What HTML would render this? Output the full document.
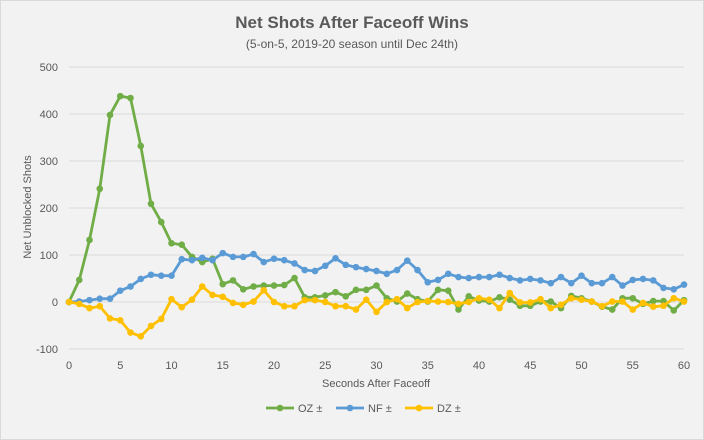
<!DOCTYPE html>
<html><head><meta charset="utf-8"><style>
html,body{margin:0;padding:0;background:#f2f2f2;}
svg{display:block;font-family:"Liberation Sans",Calibri,sans-serif;}
</style></head><body>
<svg id="c" width="704" height="440" viewBox="0 0 704 440" xmlns="http://www.w3.org/2000/svg">
<rect x="0" y="0" width="704" height="440" fill="#f2f2f2"/>
<rect x="0.5" y="0.5" width="703" height="439" fill="none" stroke="#d9d9d9" stroke-width="1"/>
<text x="352" y="28" text-anchor="middle" font-size="17" font-weight="bold" fill="#595959">Net Shots After Faceoff Wins</text>
<text x="352" y="48" text-anchor="middle" font-size="12" fill="#595959">(5-on-5, 2019-20 season until Dec 24th)</text>
<text transform="translate(31,207) rotate(-90)" text-anchor="middle" font-size="11" fill="#595959">Net Unblocked Shots</text>
<text x="376" y="387" text-anchor="middle" font-size="11" fill="#595959">Seconds After Faceoff</text>
<g id="g"></g>
</svg>
<script>
var OZ=[0,47,132,241,398,438,434,332,209,170,125,122,96,85,92,38,46,27,33,35,35,36,51,10,10,14,21,12,26,26,35,8,1,18,6,1,26,24,-16,12,3,1,10,5,-8,-8,1,1,-13,13,8,1,-10,-16,8,8,-4,2,2,-18,4];
var NF=[0,1,4,7,7,24,33,49,58,56,56,91,89,94,89,104,96,96,102,85,92,89,82,68,66,77,93,79,74,70,66,60,68,88,68,42,47,60,53,51,53,53,58,51,46,49,46,40,53,40,56,40,40,53,35,47,49,46,30,27,37];
var DZ=[0,-4,-13,-9,-35,-39,-65,-73,-51,-36,6,-11,5,33,15,11,-2,-6,1,25,0,-9,-9,4,4,0,-9,-9,-16,5,-21,0,6,-13,0,2,1,0,-4,0,8,5,-13,19,-1,-1,6,-13,-6,8,5,1,-9,1,1,-16,-2,-10,-8,8,1];
function X(s){return 69+s*10.25;} function Y(v){return 302-v*0.47;}
var h='';
for(var v=-100;v<=500;v+=100){var y=Y(v);h+='<line x1="69" x2="684" y1="'+y+'" y2="'+y+'" stroke="#d9d9d9" stroke-width="1"/>';
h+='<text x="58" y="'+(y+4)+'" text-anchor="end" font-size="11" fill="#595959">'+v+'</text>';}
for(var s=0;s<=60;s+=5){h+='<text x="'+X(s)+'" y="'+(Y(-100)+20)+'" text-anchor="middle" font-size="11" fill="#595959">'+s+'</text>';}
function ser(d,c){var p=d.map(function(v,i){return X(i).toFixed(1)+','+Y(v).toFixed(1)}).join(' ');
var r='<polyline points="'+p+'" fill="none" stroke="'+c+'" stroke-width="2.8" stroke-linejoin="round"/>';
d.forEach(function(v,i){r+='<circle cx="'+X(i)+'" cy="'+Y(v)+'" r="3.3" fill="'+c+'"/>';});return r;}
h+=ser(OZ,'#70ad47')+ser(NF,'#5b9bd5')+ser(DZ,'#ffc000');
var lg=[['OZ ±','#70ad47',266],['NF ±','#5b9bd5',336],['DZ ±','#ffc000',405]];
lg.forEach(function(l){h+='<line x1="'+l[2]+'" x2="'+(l[2]+28)+'" y1="408" y2="408" stroke="'+l[1]+'" stroke-width="2.8"/><circle cx="'+(l[2]+14)+'" cy="408" r="3.3" fill="'+l[1]+'"/><text x="'+(l[2]+32)+'" y="412" font-size="11" fill="#595959">'+l[0]+'</text>';});
document.getElementById('g').innerHTML=h;
</script>
</body></html>
